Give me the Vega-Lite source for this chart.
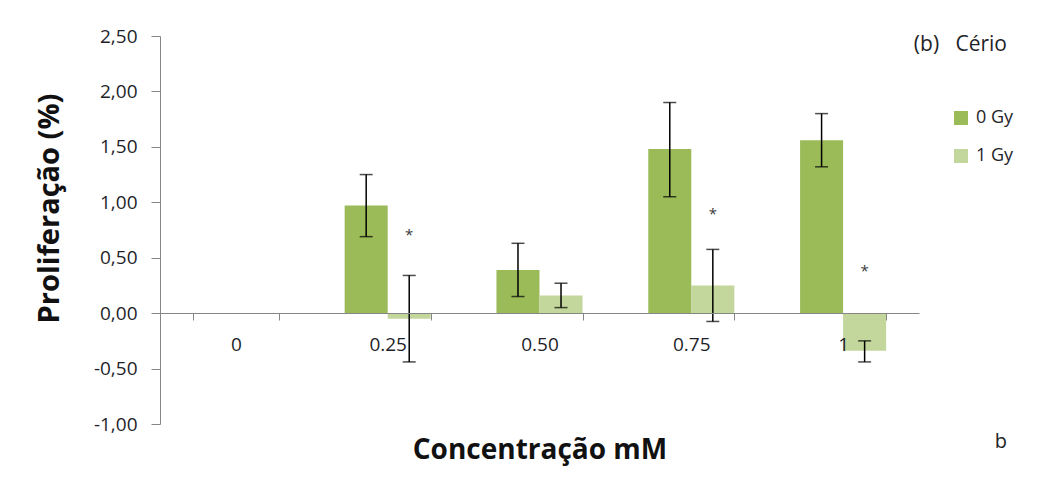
{
  "$schema": "https://vega.github.io/schema/vega-lite/v6.json",
  "width": 759,
  "height": 388,
  "autosize": "none",
  "padding": {"left": 160, "top": 36, "right": 121, "bottom": 71},
  "background": "white",
  "config": {
    "view": {"stroke": null},
    "font": "Open Sans",
    "axis": {"labelColor": "#1f1f2a", "titleColor": "#111111"}
  },
  "title": {
    "text": "(b)\u00a0\u00a0\u00a0Cério",
    "subtitle": "b",
    "anchor": "end",
    "frame": "group",
    "orient": "top",
    "dx": 88,
    "dy": 425,
    "offset": 0,
    "fontSize": 21,
    "fontWeight": "normal",
    "color": "#1f1f2a",
    "subtitleFontSize": 20,
    "subtitleColor": "#1f1f2a",
    "subtitlePadding": 377
  },
  "data": {
    "values": [
      {"cat": "0", "dose": "0 Gy", "value": 0, "lo": null, "hi": null, "star": null},
      {"cat": "0", "dose": "1 Gy", "value": 0, "lo": null, "hi": null, "star": null},
      {"cat": "0.25", "dose": "0 Gy", "value": 0.97, "lo": 0.69, "hi": 1.25, "star": null},
      {"cat": "0.25", "dose": "1 Gy", "value": -0.05, "lo": -0.44, "hi": 0.34, "star": 0.73},
      {"cat": "0.50", "dose": "0 Gy", "value": 0.39, "lo": 0.15, "hi": 0.63, "star": null},
      {"cat": "0.50", "dose": "1 Gy", "value": 0.16, "lo": 0.05, "hi": 0.27, "star": null},
      {"cat": "0.75", "dose": "0 Gy", "value": 1.48, "lo": 1.05, "hi": 1.9, "star": null},
      {"cat": "0.75", "dose": "1 Gy", "value": 0.25, "lo": -0.075, "hi": 0.575, "star": 0.92},
      {"cat": "1", "dose": "0 Gy", "value": 1.56, "lo": 1.32, "hi": 1.8, "star": null},
      {"cat": "1", "dose": "1 Gy", "value": -0.34, "lo": -0.44, "hi": -0.25, "star": 0.41}
    ]
  },
  "encoding": {
    "x": {
      "field": "cat",
      "type": "nominal",
      "scale": {"domain": ["0", "0.25", "0.50", "0.75", "1"], "paddingInner": 0.433, "paddingOuter": 0.2165},
      "axis": {
        "orient": "bottom",
        "offset": -111,
        "zindex": 1,
        "tickBand": "extent",
        "labelAngle": 0,
        "domainColor": "#868686",
        "tickColor": "#868686",
        "tickSize": 7,
        "labelPadding": 15,
        "labelFontSize": 19,
        "title": "Concentração mM",
        "titleFontSize": 28,
        "titleFontWeight": "bold",
        "titleY": 137,
        "titleBaseline": "middle"
      }
    },
    "xOffset": {"field": "dose", "type": "nominal"}
  },
  "layer": [
    {
      "mark": {"type": "bar"},
      "encoding": {
        "y": {
          "field": "value",
          "type": "quantitative",
          "scale": {"domain": [-1, 2.5], "nice": false, "zero": false},
          "axis": {
            "values": [-1, -0.5, 0, 0.5, 1, 1.5, 2, 2.5],
            "labelExpr": "replace(replace(format(datum.value, '.2f'), '.', ','), '\u2212', '-')",
            "grid": false,
            "domainColor": "#868686",
            "tickColor": "#868686",
            "tickSize": 9,
            "labelPadding": 14,
            "labelFontSize": 19,
            "title": "Proliferação (%)",
            "titleFontSize": 29,
            "titleFontWeight": "bold",
            "titleAngle": -90,
            "titleX": -111,
            "titleY": 172,
            "titleAlign": "center",
            "titleBaseline": "middle"
          }
        },
        "color": {
          "field": "dose",
          "type": "nominal",
          "scale": {"domain": ["0 Gy", "1 Gy"], "range": ["#9bbb59", "#c3d69b"]},
          "legend": {
            "title": null,
            "orient": "none",
            "legendX": 792,
            "legendY": 73,
            "symbolType": "square",
            "symbolSize": 196,
            "symbolStrokeWidth": 0,
            "labelFontSize": 18,
            "labelColor": "#1f1f2a",
            "rowPadding": 20,
            "labelOffset": 6
          }
        }
      }
    },
    {
      "transform": [{"filter": "datum.lo != null"}],
      "mark": {"type": "rule", "color": "black", "strokeWidth": 1.5},
      "encoding": {
        "y": {"field": "lo", "type": "quantitative"},
        "y2": {"field": "hi"}
      }
    },
    {
      "transform": [{"filter": "datum.lo != null"}],
      "mark": {"type": "tick", "color": "black", "size": 13, "thickness": 1.5},
      "encoding": {"y": {"field": "lo", "type": "quantitative"}}
    },
    {
      "transform": [{"filter": "datum.hi != null"}],
      "mark": {"type": "tick", "color": "black", "size": 13, "thickness": 1.5},
      "encoding": {"y": {"field": "hi", "type": "quantitative"}}
    },
    {
      "transform": [{"filter": "datum.star != null"}],
      "mark": {"type": "text", "text": "*", "fontSize": 15, "color": "#3a3a3a", "baseline": "middle", "dy": 3},
      "encoding": {"y": {"field": "star", "type": "quantitative"}}
    }
  ]
}
